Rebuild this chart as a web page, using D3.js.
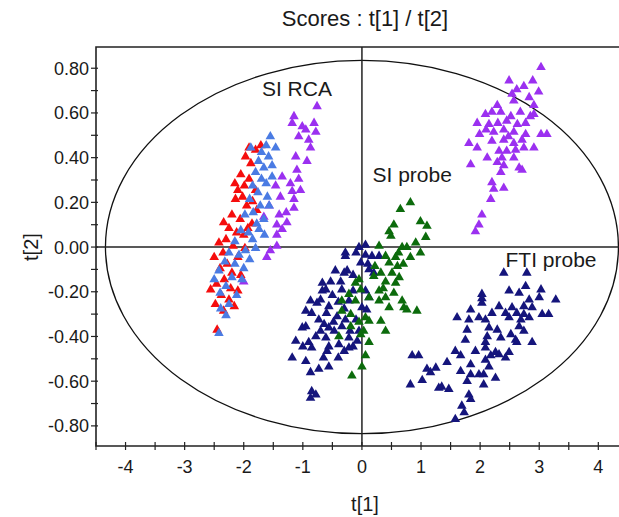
<!DOCTYPE html>
<html>
<head>
<meta charset="utf-8">
<script src="https://cdn.jsdelivr.net/npm/d3@7"></script>
<style>
  body { margin: 0; background: #fff; }
  text { font-family: "Liberation Sans", Arial, sans-serif; fill: #1a1a1a; }
</style>
</head>
<body>
<svg id="chart" width="619" height="517"></svg>
<script>
// score values, [t1, t2]
const redPts = [
  [-1.91,0.44],[-1.71,0.45],[-1.80,0.43],[-1.97,0.40],[-1.88,0.37],[-2.05,0.32],[-1.91,0.30],[-1.99,0.27],
  [-2.10,0.25],[-1.80,0.25],[-2.02,0.22],[-2.14,0.21],[-1.78,0.16],[-1.95,0.18],[-2.20,0.14],[-2.06,0.12],
  [-1.86,0.10],[-2.34,0.105],[-2.25,0.08],[-2.12,0.06],[-2.00,0.05],[-2.30,0.03],[-2.42,0.015],[-2.18,0.00],
  [-1.98,-0.01],[-2.35,-0.03],[-2.50,-0.05],[-2.10,-0.05],[-2.28,-0.08],[-2.40,-0.10],[-2.20,-0.12],[-2.05,-0.13],
  [-2.33,-0.15],[-2.46,-0.17],[-2.56,-0.195],[-2.22,-0.19],[-2.10,-0.20],[-2.38,-0.22],[-2.25,-0.24],[-2.48,-0.26],
  [-2.16,-0.27],[-2.34,-0.29],[-2.45,-0.375],[-1.85,0.20],[-1.93,0.08],[-2.15,0.28]
];
const bluePts = [
  [-1.55,0.49],[-1.46,0.44],[-1.62,0.45],[-1.70,0.42],[-1.58,0.40],[-1.75,0.38],[-1.52,0.36],[-1.66,0.35],
  [-1.80,0.33],[-1.52,0.31],[-1.70,0.30],[-1.62,0.28],[-1.85,0.27],[-1.76,0.24],[-1.60,0.22],[-1.90,0.21],
  [-1.57,0.18],[-1.72,0.18],[-1.84,0.15],[-1.98,0.14],[-1.66,0.12],[-1.78,0.10],[-1.74,0.075],[-1.92,0.06],
  [-2.05,0.07],[-1.85,0.03],[-2.15,0.02],[-1.97,-0.02],[-1.80,-0.01],[-2.08,-0.04],[-2.25,-0.03],[-1.90,-0.06],
  [-2.15,-0.08],[-2.32,-0.07],[-2.00,-0.10],[-2.42,-0.11],[-2.20,-0.14],[-2.03,-0.15],[-2.50,-0.15],[-2.30,-0.18],
  [-2.12,-0.22],[-2.40,-0.21],[-2.25,-0.26],[-2.39,-0.28],[-2.30,-0.31],[-2.42,-0.39],[-1.65,0.05],[-1.88,0.44]
];
const purpleLeftPts = [
  [-0.76,0.625],[-1.15,0.58],[-1.18,0.55],[-1.01,0.535],[-0.81,0.55],[-0.78,0.51],[-1.07,0.49],[-0.90,0.475],
  [-0.87,0.44],[-0.93,0.38],[-1.10,0.34],[-1.35,0.31],[-1.46,0.27],[-1.21,0.28],[-1.07,0.30],[-1.04,0.25],
  [-1.18,0.245],[-1.38,0.22],[-1.15,0.21],[-1.15,0.17],[-1.57,0.18],[-1.40,0.14],[-1.28,0.15],[-1.66,0.13],
  [-1.44,0.095],[-1.27,0.105],[-1.35,0.075],[-1.44,0.05],[-1.44,0.0],[-1.55,-0.02],[-1.61,-0.05],[-2.00,-0.16],
  [-0.95,0.52],[-1.12,0.40]
];
const purpleRightPts = [
  [3.03,0.80],[2.49,0.74],[2.74,0.715],[2.89,0.74],[2.99,0.69],[2.54,0.68],[2.57,0.65],[2.83,0.665],
  [2.91,0.63],[2.29,0.63],[2.09,0.59],[2.20,0.60],[2.35,0.60],[2.68,0.60],[2.91,0.59],[1.95,0.55],
  [2.15,0.545],[2.45,0.56],[2.63,0.545],[2.77,0.55],[1.99,0.50],[2.23,0.51],[2.40,0.52],[2.57,0.51],
  [2.77,0.50],[3.03,0.50],[3.13,0.50],[1.81,0.46],[1.95,0.44],[2.20,0.47],[2.40,0.475],[2.57,0.46],
  [2.71,0.475],[2.74,0.44],[2.91,0.44],[2.32,0.425],[2.45,0.425],[2.12,0.395],[2.37,0.395],[2.57,0.395],
  [1.84,0.365],[2.29,0.375],[2.40,0.36],[2.66,0.35],[2.71,0.34],[2.35,0.33],[2.20,0.285],[2.23,0.255],
  [2.40,0.26],[2.18,0.21],[2.03,0.14],[1.98,0.095],[1.92,0.065],[2.52,0.58],[2.62,0.70],[2.30,0.55],
  [2.48,0.49],[2.10,0.52],[2.60,0.43],[2.85,0.58]
];
const navyMidPts = [
  [0.06,0.005],[-0.05,-0.005],[-0.28,-0.03],[-0.28,-0.045],[0.06,-0.04],[0.17,-0.045],[0.29,-0.045],[-0.02,-0.075],
  [-0.45,-0.11],[-0.25,-0.11],[0.12,-0.105],[-0.67,-0.165],[-0.53,-0.16],[-0.36,-0.16],[-0.67,-0.20],[-0.61,-0.195],
  [-0.34,-0.195],[0.06,-0.20],[-0.87,-0.245],[-0.76,-0.255],[-0.56,-0.27],[-0.22,-0.245],[0.12,-0.23],[-0.95,-0.29],
  [-0.85,-0.30],[-0.73,-0.33],[-0.42,-0.315],[-0.28,-0.33],[0.08,-0.285],[-1.01,-0.365],[-0.64,-0.35],[-0.56,-0.365],
  [-0.34,-0.36],[-0.47,-0.38],[-0.78,-0.405],[-0.61,-0.41],[-0.22,-0.41],[-0.08,-0.425],[-1.12,-0.425],[-0.90,-0.43],
  [-0.56,-0.45],[-0.39,-0.44],[-0.85,-0.455],[-0.59,-0.47],[-0.22,-0.455],[-1.18,-0.50],[-0.95,-0.515],[-0.56,-0.54],
  [-0.73,-0.55],[-0.87,-0.565],[-0.85,-0.65],[-0.78,-0.665],[-0.87,-0.68],[0.00,-0.275],[-0.50,-0.22],[-0.40,-0.25],
  [-0.70,-0.24],[-0.60,-0.30],[-0.48,-0.34],[-0.30,-0.28],[-0.15,-0.20],[-0.10,-0.33],[-0.20,-0.38],[-0.70,-0.38],
  [-0.95,-0.36],[-0.40,-0.50],[-0.65,-0.50],[-0.30,-0.47],[-1.00,-0.45],[-0.15,-0.45],[-0.05,-0.38],[-0.30,-0.12],
  [-0.15,-0.13],[0.10,-0.08],[0.20,-0.12],[-0.10,-0.03]
];
const greenPts = [
  [0.82,0.195],[0.65,0.165],[0.54,0.095],[0.99,0.11],[1.10,0.09],[0.46,0.065],[0.49,0.045],[1.08,0.04],
  [0.91,0.015],[0.29,0.00],[0.68,-0.005],[0.76,-0.005],[0.99,-0.03],[0.40,-0.045],[0.57,-0.05],[0.82,-0.05],
  [0.46,-0.075],[0.60,-0.09],[0.32,-0.12],[0.51,-0.12],[0.63,-0.14],[0.20,-0.135],[-0.05,-0.15],[-0.11,-0.165],
  [0.40,-0.16],[0.57,-0.165],[-0.02,-0.195],[0.29,-0.20],[-0.22,-0.215],[0.12,-0.23],[0.40,-0.23],[0.54,-0.21],
  [-0.34,-0.245],[-0.11,-0.245],[0.29,-0.245],[0.46,-0.275],[0.68,-0.245],[0.71,-0.275],[0.76,-0.285],[0.93,-0.29],
  [-0.34,-0.29],[-0.19,-0.305],[0.06,-0.32],[-0.05,-0.34],[0.12,-0.335],[0.32,-0.335],[-0.19,-0.36],[0.03,-0.38],
  [0.40,-0.38],[-0.39,-0.405],[-0.02,-0.395],[0.12,-0.43],[0.06,-0.49],[0.00,-0.54],[-0.17,-0.58],[0.70,-0.08],
  [0.62,-0.03],[0.22,-0.09],[0.36,-0.19]
];
const navyRightPts = [
  [2.77,-0.18],[3.03,-0.195],[2.49,-0.20],[2.66,-0.21],[2.03,-0.215],[3.00,-0.23],[3.28,-0.24],[2.83,-0.24],
  [2.03,-0.255],[2.32,-0.27],[2.54,-0.275],[2.74,-0.27],[2.88,-0.275],[1.84,-0.285],[2.43,-0.30],[2.62,-0.30],
  [2.74,-0.305],[3.05,-0.305],[3.16,-0.305],[1.61,-0.32],[1.81,-0.33],[1.98,-0.32],[2.09,-0.33],[2.49,-0.32],
  [2.69,-0.33],[2.83,-0.32],[2.15,-0.365],[2.29,-0.375],[2.66,-0.36],[1.78,-0.375],[2.74,-0.38],[2.12,-0.405],
  [2.52,-0.395],[2.60,-0.42],[1.75,-0.42],[2.35,-0.41],[2.09,-0.43],[2.88,-0.43],[2.62,-0.43],[1.92,-0.47],
  [2.09,-0.455],[2.26,-0.475],[2.49,-0.475],[1.58,-0.47],[0.85,-0.49],[0.96,-0.49],[1.67,-0.49],[2.09,-0.51],
  [2.18,-0.49],[2.32,-0.485],[2.43,-0.50],[1.44,-0.52],[1.84,-0.53],[2.15,-0.54],[1.10,-0.55],[1.25,-0.545],
  [1.67,-0.56],[1.16,-0.565],[1.84,-0.575],[1.98,-0.575],[2.06,-0.575],[2.26,-0.59],[1.02,-0.60],[1.78,-0.605],
  [0.82,-0.62],[1.30,-0.635],[1.35,-0.63],[1.47,-0.64],[2.06,-0.62],[1.81,-0.665],[1.84,-0.685],[1.69,-0.715],
  [1.73,-0.745],[1.58,-0.775],[2.40,-0.12],[2.79,-0.12],[2.03,-0.235],[2.20,-0.30]
];

const series = [
  { pts: purpleLeftPts,  color: "#9b30f0" },
  { pts: redPts,         color: "#f50d0d" },
  { pts: bluePts,        color: "#4a7be3" },
  { pts: navyMidPts,     color: "#15157c" },
  { pts: greenPts,       color: "#0c6b0c" },
  { pts: navyRightPts,   color: "#15157c" },
  { pts: purpleRightPts, color: "#9b30f0" }
];

const groupLabels = [
  { text: "SI RCA",    at: [-1.1, 0.675] },
  { text: "SI probe",  at: [0.85, 0.29] },
  { text: "FTI probe", at: [3.2, -0.09] }
];

const xTicks = [-4, -3, -2, -1, 0, 1, 2, 3, 4];
const yTicks = [-0.8, -0.6, -0.4, -0.2, 0, 0.2, 0.4, 0.6, 0.8];
const ellipseRadii = [4.34, 0.835];

const svg = d3.select("#chart");
const M = { left: 96, top: 47, bottom: 446, right: 619 };

const x = d3.scaleLinear().domain([-4.5, 4.35]).range([M.left, M.right]);
const y = d3.scaleLinear().domain([-0.89, 0.895]).range([M.bottom, M.top]);
const hyphen = s => s.replace("\u2212", "-");

// Hotelling ellipse
svg.append("ellipse")
  .attr("cx", x(0)).attr("cy", y(0))
  .attr("rx", x(ellipseRadii[0]) - x(0))
  .attr("ry", y(0) - y(ellipseRadii[1]))
  .attr("fill", "none").attr("stroke", "#111").attr("stroke-width", 1.3);

// zero lines
svg.append("line").attr("x1", M.left).attr("x2", M.right).attr("y1", y(0)).attr("y2", y(0))
  .attr("stroke", "#222").attr("stroke-width", 1.5);
svg.append("line").attr("x1", x(0)).attr("x2", x(0)).attr("y1", M.top).attr("y2", M.bottom)
  .attr("stroke", "#222").attr("stroke-width", 1.5);

// frame
svg.append("path")
  .attr("d", `M${M.right},${M.top}H${M.left}V${M.bottom}H${M.right}`)
  .attr("fill", "none").attr("stroke", "#222").attr("stroke-width", 1.6);

// ticks
const xMinor = d3.range(-4.5, 4.35, 0.5);
svg.append("g").selectAll("line").data(xMinor).join("line")
  .attr("x1", d => x(d)).attr("x2", d => x(d))
  .attr("y1", M.bottom - 4).attr("y2", M.bottom + 4)
  .attr("stroke", "#222").attr("stroke-width", 1.2);
svg.append("g").selectAll("text").data(xTicks).join("text")
  .attr("x", d => x(d)).attr("y", M.bottom + 27)
  .attr("text-anchor", "middle").attr("font-size", 18)
  .text(d => hyphen(d3.format("d")(d)));

const yMinor = d3.range(-8, 9).map(i => i / 10);
svg.append("g").selectAll("line").data(yMinor).join("line")
  .attr("x1", M.left - 5).attr("x2", M.left + 2)
  .attr("y1", d => y(d)).attr("y2", d => y(d))
  .attr("stroke", "#222").attr("stroke-width", 1.2);
svg.append("g").selectAll("text").data(yTicks).join("text")
  .attr("x", M.left - 7).attr("y", d => y(d) + 6.5)
  .attr("text-anchor", "end").attr("font-size", 18)
  .text(d => hyphen(d3.format(".2f")(d)));

// points
const tri = d3.symbol().type(d3.symbolTriangle).size(40);
series.forEach(s => {
  svg.append("g").selectAll("path").data(s.pts).join("path")
    .attr("d", tri)
    .attr("transform", d => `translate(${x(d[0])},${y(d[1]) - 1})`)
    .attr("fill", s.color);
});

// group labels
svg.append("g").selectAll("text").data(groupLabels).join("text")
  .attr("x", d => x(d.at[0])).attr("y", d => y(d.at[1]))
  .attr("text-anchor", "middle").attr("font-size", 21)
  .text(d => d.text);

// titles
svg.append("text").attr("x", 365).attr("y", 26).attr("text-anchor", "middle")
  .attr("font-size", 22).text("Scores : t[1] / t[2]");
svg.append("text").attr("x", 365).attr("y", 511).attr("text-anchor", "middle")
  .attr("font-size", 20).text("t[1]");
svg.append("text").attr("transform", `translate(38,${y(0)}) rotate(-90)`)
  .attr("text-anchor", "middle").attr("font-size", 20).text("t[2]");
</script>
</body>
</html>
